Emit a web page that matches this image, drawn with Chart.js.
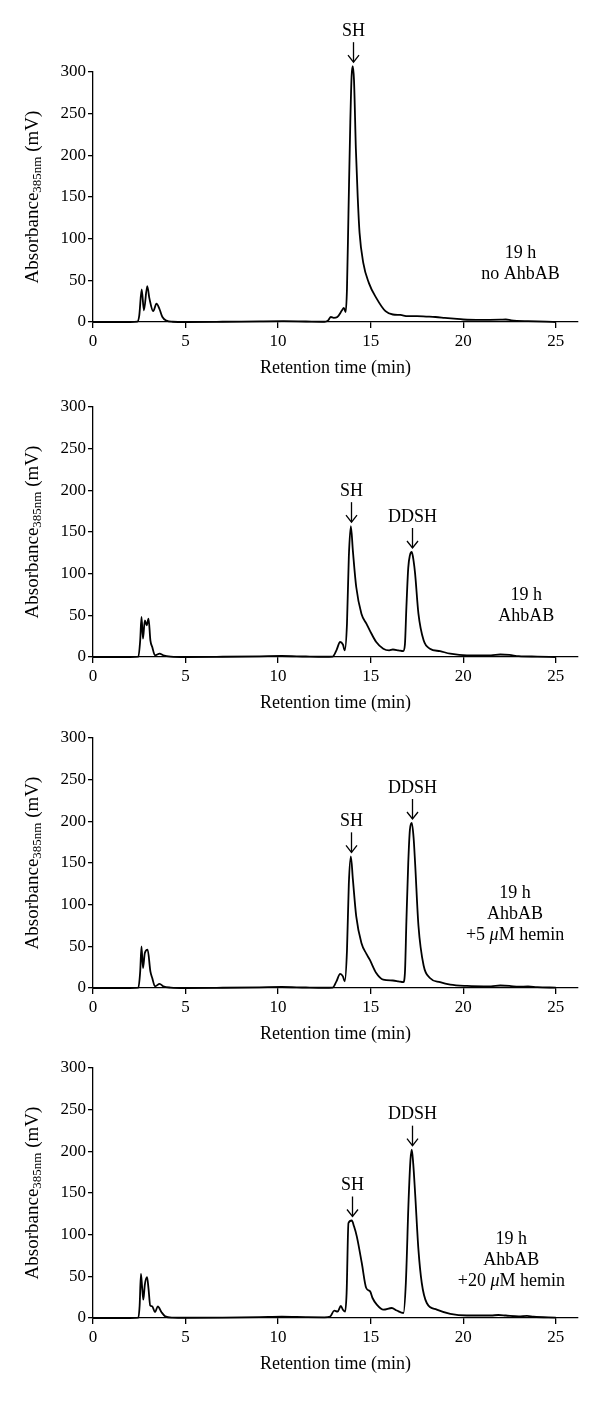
<!DOCTYPE html>
<html><head><meta charset="utf-8">
<script src="https://cdn.jsdelivr.net/npm/chart.js@4.4.1/dist/chart.umd.min.js"></script>
<style>
html,body{margin:0;padding:0;background:#fff;}
#wrap{position:relative;width:600px;height:1402px;overflow:hidden;background:#fff;}
canvas{position:absolute;left:0;}
</style></head><body><div id="wrap"></div>
<script>
// ---------- tick labels ----------
const xTicks = [0, 5, 10, 15, 20, 25];
const yTicks = [0, 50, 100, 150, 200, 250, 300];

// ---------- panel 1 : 19 h, no AhbAB ----------
const time1 = [0, 2.0, 2.4, 2.5, 2.63, 2.75, 2.93, 3.05, 3.25, 3.43, 3.6, 3.75, 3.97, 4.3, 5, 7, 9, 10.3, 11.5, 12.5, 12.7, 12.85, 13.0, 13.2, 13.45, 13.55, 13.65, 13.72, 13.8, 13.9, 13.97, 14.03, 14.1, 14.2, 14.3, 14.4, 14.6, 14.9, 15.3, 15.8, 16.2, 16.6, 17.0, 17.5, 18.0, 18.5, 19.0, 19.5, 20.0, 21.0, 22.0, 22.3, 22.6, 23.5, 24.5, 25.0];
const abs1  = [0, 0, 0.5, 8, 39, 14, 43, 28, 13, 22, 15, 6, 1.6, 0.3, 0, 0.3, 0.8, 1, 0.6, 0.3, 2, 6, 5, 6, 14, 17, 12, 40, 130, 240, 295, 307, 290, 208, 150, 107, 71, 47, 29, 13, 9, 8.5, 7, 7, 6.5, 6, 5, 4, 3, 2.5, 2.8, 3, 2, 1, 0.5, 0];

// ---------- panel 2 : 19 h, AhbAB ----------
const time2 = [0, 2.0, 2.45, 2.55, 2.62, 2.7, 2.8, 2.9, 3.0, 3.1, 3.2, 3.35, 3.6, 3.8, 4.2, 5, 7, 9, 10.2, 11.5, 12.5, 12.94, 13.15, 13.35, 13.5, 13.6, 13.72, 13.82, 13.93, 14.04, 14.22, 14.5, 14.77, 14.95, 15.3, 15.68, 16.0, 16.2, 16.5, 16.76, 16.85, 16.93, 17.03, 17.12, 17.22, 17.32, 17.4, 17.58, 17.86, 18.2, 18.75, 19.3, 20.2, 21.5, 22.0, 22.5, 23.0, 24.0, 25.0];
const abs2  = [0, 0, 0.5, 20, 48, 22, 44, 38, 46, 20, 12, 2, 4, 2, 0.5, 0, 0.3, 0.8, 1.2, 0.6, 0.3, 0.5, 8, 18, 15, 8, 40, 120, 157, 127, 84, 52, 40, 32, 18, 10, 8, 9, 8, 7, 15, 60, 107, 122, 126, 115, 100, 52, 20, 10, 7, 4, 2, 2, 3, 2.5, 1, 0.5, 0];

// ---------- panel 3 : 19 h, AhbAB +5 uM hemin ----------
const time3 = [0, 2.0, 2.45, 2.55, 2.62, 2.7, 2.8, 2.95, 3.1, 3.2, 3.35, 3.6, 3.8, 4.2, 5, 7, 9, 10.2, 11.5, 12.5, 12.94, 13.15, 13.35, 13.5, 13.6, 13.72, 13.82, 13.93, 14.04, 14.22, 14.5, 14.77, 14.95, 15.3, 15.68, 16.2, 16.5, 16.76, 16.85, 16.93, 17.03, 17.12, 17.22, 17.32, 17.4, 17.58, 17.86, 18.2, 18.75, 19.3, 20.2, 21.5, 22.0, 22.5, 23.0, 23.5, 24.0, 25.0];
const abs3  = [0, 0, 0.5, 20, 50, 24, 42, 46, 20, 12, 2, 5, 2, 0.5, 0, 0.3, 0.8, 1.2, 0.6, 0.3, 0.5, 8, 17, 14, 8, 45, 125, 158, 130, 86, 54, 41, 34, 18, 10, 9, 8, 7, 18, 80, 150, 190, 198, 180, 150, 75, 27, 12, 7, 4, 2.5, 2, 3, 2.5, 1.5, 2, 1, 0.5];

// ---------- panel 4 : 19 h, AhbAB +20 uM hemin ----------
const time4 = [0, 2.0, 2.45, 2.52, 2.59, 2.66, 2.72, 2.8, 2.92, 3.0, 3.09, 3.2, 3.35, 3.5, 3.7, 3.9, 4.3, 5, 7, 9, 10.2, 11.5, 12.5, 12.81, 13.03, 13.21, 13.39, 13.5, 13.62, 13.7, 13.8, 13.98, 14.1, 14.25, 14.52, 14.76, 14.97, 15.1, 15.33, 15.69, 16.14, 16.41, 16.77, 16.9, 17.05, 17.15, 17.22, 17.3, 17.4, 17.58, 17.76, 18.03, 18.57, 19.3, 20.2, 21.5, 21.9, 22.3, 23.0, 23.45, 23.8, 25.0];
const abs4  = [0, 0, 0.5, 15, 53, 35, 22, 40, 49, 35, 15, 14, 7, 14, 7, 2, 0.5, 0.3, 0.5, 1, 1.5, 1, 0.8, 1.6, 8.8, 7.6, 14.4, 10, 7.6, 30, 114, 117, 110, 98, 66, 36, 32, 24, 16, 10, 12, 9, 6, 42, 142, 190, 202, 185, 150, 82, 42, 18, 10, 5, 3, 3, 3.6, 3, 2, 2.5, 1.5, 0.5];

// ---------- labels ----------
const peakLabels1 = ['SH'];           const peakTimes1 = [14.03];
const peakLabels2 = ['SH', 'DDSH'];   const peakTimes2 = [13.93, 17.22];
const peakLabels3 = ['SH', 'DDSH'];   const peakTimes3 = [13.93, 17.22];
const peakLabels4 = ['SH', 'DDSH'];   const peakTimes4 = [13.98, 17.22];
const cond1 = ['19 h', 'no AhbAB'];
const cond2 = ['19 h', 'AhbAB'];
const cond3 = ['19 h', 'AhbAB', '+5 μM hemin'];
const cond4 = ['19 h', 'AhbAB', '+20 μM hemin'];
const xTitle = 'Retention time (min)';
const yTitleMain = 'Absorbance', yTitleSub = '385nm', yTitleUnit = ' (mV)';

// ---------- layout (not data) ----------
const FAMILY = '"Liberation Serif", "Times New Roman", serif';
const panels = [
  {t: time1, v: abs1, pl: peakLabels1, pt: peakTimes1, cond: cond1, condX: 23.1, condY: 83, zero: 322},
  {t: time2, v: abs2, pl: peakLabels2, pt: peakTimes2, cond: cond2, condX: 23.4, condY: 74, zero: 657},
  {t: time3, v: abs3, pl: peakLabels3, pt: peakTimes3, cond: cond3, condX: 22.8, condY: 114, zero: 988},
  {t: time4, v: abs4, pl: peakLabels4, pt: peakTimes4, cond: cond4, condX: 22.6, condY: 94, zero: 1318}
];
const PLOT_H = 250, TOP_PAD = 60, BOTTOM_H = 60;

function nearestIndex(arr, val){
  let best = 0;
  for (let i = 1; i < arr.length; i++) if (Math.abs(arr[i]-val) < Math.abs(arr[best]-val)) best = i;
  return best;
}

function drawMixed(ctx, text, cx, cy, size){
  const parts = text.split(/(μ)/).filter(s => s.length);
  const fonts = parts.map(p => (p === 'μ' ? 'italic ' : '') + size + 'px ' + FAMILY);
  let total = 0; const w = [];
  parts.forEach((p, i) => { ctx.font = fonts[i]; w[i] = ctx.measureText(p).width; total += w[i]; });
  let x0 = cx - total/2;
  ctx.textAlign = 'left';
  parts.forEach((p, i) => { ctx.font = fonts[i]; ctx.fillText(p, x0, cy); x0 += w[i]; });
}

const annotPlugin = {
  id: 'annot',
  afterDraw(chart, args, opts){
    const p = opts.panel; if (!p) return;
    const {ctx, chartArea} = chart;
    const xs = chart.scales.x, ys = chart.scales.y;
    ctx.save();
    ctx.fillStyle = '#000'; ctx.strokeStyle = '#000';
    ctx.textBaseline = 'middle';
    p.pl.forEach((lab, k) => {
      const i = nearestIndex(p.t, p.pt[k]);
      const px = Math.round(xs.getPixelForValue(p.t[i])) + 0.5;
      const py = ys.getPixelForValue(p.v[i]);
      const tip = py - 4, top = tip - 20;
      ctx.lineWidth = 1.3;
      ctx.beginPath(); ctx.moveTo(px, top); ctx.lineTo(px, tip); ctx.stroke();
      ctx.beginPath(); ctx.moveTo(px - 5.5, tip - 7); ctx.lineTo(px, tip); ctx.lineTo(px + 5.5, tip - 7); ctx.stroke();
      ctx.font = '18px ' + FAMILY; ctx.textAlign = 'center';
      ctx.fillText(lab, px, top - 11);
    });
    const cx = xs.getPixelForValue(p.condX);
    const cy = ys.getPixelForValue(p.condY);
    p.cond.forEach((line, j) => drawMixed(ctx, line, cx, cy + j*21, 18));
    const midY = (chartArea.top + chartArea.bottom)/2;
    ctx.translate(33, midY);
    ctx.rotate(-Math.PI/2);
    const fMain = '19px ' + FAMILY, fSub = '13px ' + FAMILY;
    ctx.font = fMain; const w1 = ctx.measureText(yTitleMain).width;
    ctx.font = fSub;  const w2 = ctx.measureText(yTitleSub).width;
    ctx.font = fMain; const w3 = ctx.measureText(yTitleUnit).width;
    let x0 = -(w1 + w2 + w3)/2;
    ctx.textAlign = 'left';
    ctx.font = fMain; ctx.fillText(yTitleMain, x0, 0); x0 += w1;
    ctx.font = fSub;  ctx.fillText(yTitleSub, x0, 5); x0 += w2;
    ctx.font = fMain; ctx.fillText(yTitleUnit, x0, 0);
    ctx.restore();
  }
};

Chart.defaults.font.family = FAMILY;
Chart.defaults.color = '#000';

const wrap = document.getElementById('wrap');
panels.forEach((p) => {
  const c = document.createElement('canvas');
  const H = TOP_PAD + PLOT_H + BOTTOM_H;
  c.width = 600; c.height = H;
  c.style.width = '600px'; c.style.height = H + 'px';
  c.style.top = (p.zero - PLOT_H - TOP_PAD) + 'px';
  wrap.appendChild(c);
  new Chart(c, {
    type: 'line',
    data: { datasets: [{
      data: p.t.map((tt, i) => ({x: tt, y: p.v[i]})),
      borderColor: '#000', borderWidth: 1.8, pointRadius: 0,
      cubicInterpolationMode: 'monotone', fill: false, clip: false
    }]},
    options: {
      responsive: false, animation: false, devicePixelRatio: 1,
      layout: { padding: { top: TOP_PAD, right: 22, left: 0, bottom: 0 } },
      plugins: { legend: {display: false}, tooltip: {enabled: false}, annot: {panel: p} },
      scales: {
        x: {
          type: 'linear', min: 0, max: 26.2,
          afterBuildTicks: s => { s.ticks = xTicks.map(v => ({value: v})); },
          afterFit: s => { s.height = BOTTOM_H; },
          grid: { display: true, drawOnChartArea: false, drawTicks: true, tickLength: 6, color: '#000', lineWidth: 1.3 },
          border: { display: true, color: '#000', width: 1.3 },
          ticks: { font: {size: 17}, color: '#000', padding: 3, maxRotation: 0, autoSkip: false },
          title: { display: true, text: xTitle, font: {size: 18}, color: '#000', padding: {top: 0, bottom: 3} }
        },
        y: {
          min: 0, max: 300,
          afterBuildTicks: s => { s.ticks = yTicks.map(v => ({value: v})); },
          afterFit: s => { s.width = 93; },
          grid: { display: true, drawOnChartArea: false, drawTicks: true, tickLength: 5, color: '#000', lineWidth: 1.3 },
          border: { display: true, color: '#000', width: 1.3 },
          ticks: { font: {size: 17}, color: '#000', padding: 2 }
        }
      }
    },
    plugins: [annotPlugin]
  });
});
</script></body></html>
